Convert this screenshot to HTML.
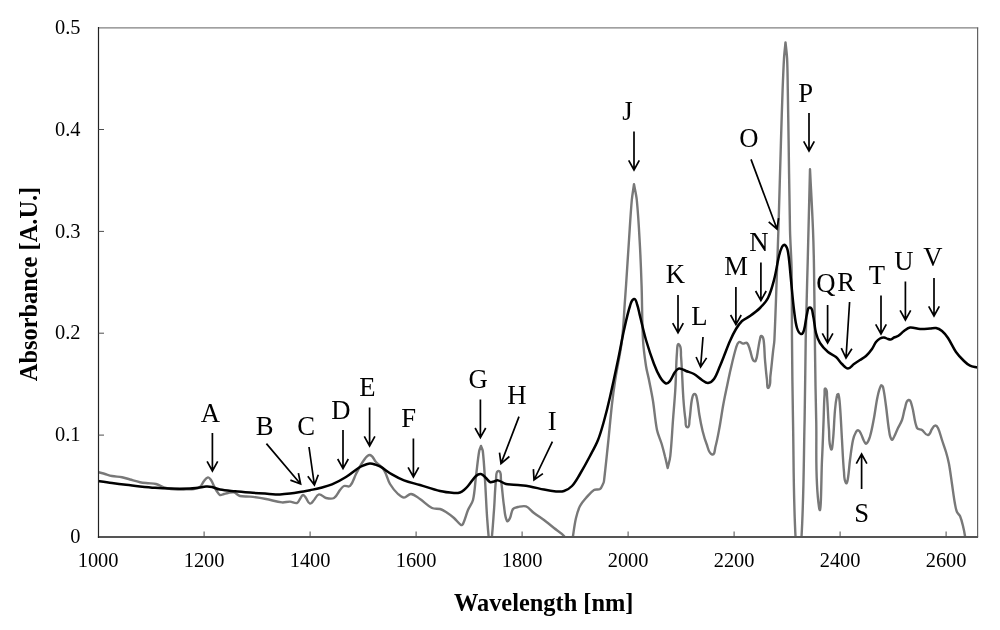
<!DOCTYPE html>
<html><head><meta charset="utf-8"><title>Absorbance spectrum</title>
<style>
html,body{margin:0;padding:0;background:#fff}
svg{display:block}
text{font-family:"Liberation Serif","Times New Roman",serif;fill:#000}
.tick{font-size:20.4px}
.lab{font-size:26.67px}
.ttl{font-size:24.4px;font-weight:bold}
</style></head><body>
<svg width="1000" height="630" viewBox="0 0 1000 630">
<rect width="1000" height="630" fill="#fff"/>
<defs><clipPath id="pa"><rect x="98.5" y="27.6" width="879.1" height="509.4"/></clipPath></defs>

<g clip-path="url(#pa)" fill="none" stroke-linejoin="round" stroke-linecap="round">
<path d="M98.0 472.0C100.3 472.7 102.7 473.3 105.0 474.0C107.3 474.7 109.6 475.6 112.0 476.0C115.3 476.6 118.7 476.6 122.0 477.2C124.7 477.7 127.3 478.8 130.0 479.5C133.3 480.4 136.6 481.5 140.0 482.2C142.6 482.7 145.3 482.9 148.0 483.2C150.7 483.5 153.4 483.3 156.0 484.0C159.5 484.9 162.5 487.1 166.0 488.0C169.9 489.0 174.0 489.3 178.0 489.6C180.7 489.8 183.3 489.5 186.0 489.4C188.7 489.3 191.4 489.5 194.0 489.0C196.1 488.6 198.4 488.3 200.0 487.0C201.9 485.5 202.5 482.8 204.0 481.0C205.1 479.6 206.2 477.7 208.0 477.4C209.3 477.2 210.2 478.9 211.0 480.0C212.3 481.8 213.0 484.0 214.0 486.0C215.0 487.9 215.8 489.8 217.0 491.5C217.9 492.8 218.6 494.5 220.0 495.0C221.3 495.5 222.7 494.3 224.0 494.0C225.3 493.7 226.6 493.2 228.0 493.0C230.0 492.7 232.1 491.9 234.0 492.4C236.3 493.0 237.7 495.4 240.0 496.0C243.2 496.8 246.7 496.2 250.0 496.6C255.4 497.2 260.7 498.0 266.0 499.0C271.4 500.0 276.6 501.8 282.0 502.4C284.7 502.7 287.3 501.5 290.0 501.6C292.4 501.7 294.7 503.6 297.0 503.0C298.6 502.6 299.0 500.3 300.0 499.0C301.0 497.7 301.4 495.3 303.0 495.0C304.4 494.8 305.1 496.9 306.0 498.0C307.4 499.8 307.8 503.0 310.0 503.6C311.7 504.0 312.7 501.3 314.0 500.0C315.7 498.2 316.5 494.8 319.0 494.4C321.6 494.0 323.4 497.4 326.0 498.0C328.6 498.6 331.7 499.3 334.0 498.0C336.9 496.3 337.9 492.6 340.0 490.0C341.2 488.6 342.2 486.7 344.0 486.0C345.9 485.3 348.6 487.4 350.0 486.0C353.2 482.8 353.9 477.9 356.0 474.0C358.5 469.3 360.8 464.3 364.0 460.0C365.5 457.9 367.4 454.6 370.0 455.0C373.0 455.5 373.9 459.8 376.0 462.0C378.6 464.8 382.0 466.8 384.0 470.0C386.7 474.3 387.4 479.6 390.0 484.0C392.2 487.7 394.9 491.0 398.0 494.0C399.7 495.6 401.7 497.6 404.0 497.6C406.6 497.6 408.4 493.8 411.0 494.0C414.4 494.3 417.1 497.1 420.0 499.0C424.2 501.8 427.5 505.8 432.0 508.0C434.4 509.2 437.4 508.3 440.0 509.0C442.2 509.6 444.1 510.8 446.0 512.0C448.8 513.8 451.5 515.8 454.0 518.0C456.5 520.2 458.3 523.2 461.0 525.0C461.6 525.4 462.7 524.7 463.0 524.0C465.1 519.5 466.1 514.6 468.0 510.0C469.4 506.6 472.1 503.6 473.0 500.0C474.8 492.2 475.0 484.0 476.0 476.0C477.1 467.7 477.8 459.3 479.2 451.0C479.5 449.3 480.4 447.7 481.0 446.0C481.6 447.7 482.6 449.2 482.8 451.0C483.9 460.6 484.4 470.3 485.0 480.0C485.8 492.0 486.2 504.0 487.0 516.0C487.7 525.7 488.3 535.4 489.6 545.0C489.7 545.5 490.9 545.5 491.0 545.0C492.5 533.4 493.1 521.7 494.0 510.0C494.8 500.0 494.8 490.0 496.0 480.0C496.4 476.9 495.5 471.0 498.6 471.0C501.7 471.0 500.5 476.9 501.0 480.0C502.3 488.6 502.7 497.4 504.0 506.0C504.7 511.0 504.7 516.4 507.0 521.0C507.6 522.3 509.4 519.3 510.0 518.0C511.4 515.2 511.1 511.6 513.0 509.0C514.1 507.5 516.2 507.4 518.0 507.0C520.6 506.5 523.5 505.5 526.0 506.4C529.2 507.6 531.2 510.9 534.0 513.0C537.2 515.5 540.7 517.6 544.0 520.0C547.4 522.6 550.7 525.3 554.0 528.0C557.3 530.7 561.3 532.7 564.0 536.0C566.1 538.5 565.8 542.5 568.0 545.0C568.9 546.0 571.4 546.2 572.0 545.0C573.5 542.4 572.6 539.0 573.0 536.0C573.9 530.0 574.6 523.9 576.0 518.0C577.0 513.9 578.1 509.8 580.0 506.0C581.5 503.0 583.8 500.5 586.0 498.0C588.5 495.2 590.8 492.0 594.0 490.0C595.7 488.9 598.3 490.1 600.0 489.0C601.6 487.9 602.1 485.7 603.0 484.0C603.5 483.1 603.9 482.0 604.0 481.0C605.5 468.7 606.7 456.3 608.0 444.0C609.4 430.7 610.5 417.3 612.0 404.0C612.9 396.0 614.0 388.0 615.2 380.0C617.3 366.6 620.4 353.4 622.0 340.0C623.6 326.7 624.0 313.3 625.0 300.0C625.3 295.3 625.7 290.7 626.0 286.0C627.0 270.7 628.0 255.3 629.0 240.0C629.9 226.7 630.6 213.3 631.8 200.0C632.3 194.7 633.3 189.5 634.0 184.2C634.9 189.5 636.3 194.7 636.8 200.0C638.1 213.3 638.9 226.7 639.6 240.0C640.5 255.3 641.1 270.7 641.6 286.0C642.2 304.0 642.0 322.0 643.0 340.0C643.5 348.7 644.7 357.4 646.0 366.0C646.7 370.7 648.1 375.3 649.0 380.0C650.4 387.0 651.9 394.0 653.0 401.0C654.5 410.6 655.1 420.4 657.0 430.0C658.0 434.8 660.3 439.3 661.7 444.0C662.9 448.1 664.0 452.3 665.0 456.5C666.0 460.3 666.8 464.2 667.7 468.0C668.6 464.0 669.9 460.1 670.3 456.0C671.6 444.0 672.1 432.0 673.0 420.0C673.8 409.3 674.8 398.7 675.4 388.0C676.1 376.0 676.0 364.0 677.0 352.0C677.2 349.4 677.1 342.5 679.0 344.4C681.8 347.2 680.7 352.1 681.0 356.0C682.2 370.3 682.4 384.7 683.4 399.0C683.9 406.0 684.5 413.0 685.5 420.0C685.9 422.5 684.9 427.3 687.4 427.3C689.9 427.3 689.1 422.5 689.5 420.0C690.6 413.0 690.6 405.9 692.0 399.0C692.4 397.2 692.7 394.0 694.6 394.0C696.4 394.0 696.6 397.2 697.0 399.0C698.2 404.3 698.5 409.7 699.4 415.0C700.3 420.4 701.3 425.7 702.6 431.0C703.7 435.4 704.9 439.8 706.6 444.0C708.1 447.7 708.4 453.2 712.2 454.5C714.8 455.4 714.7 449.6 715.4 447.0C717.1 440.8 718.2 434.4 719.4 428.0C720.9 420.0 721.9 412.0 723.4 404.0C724.9 396.0 726.7 388.0 728.3 380.0C728.9 377.3 729.4 374.7 730.0 372.0C731.9 364.0 733.6 355.9 736.0 348.0C736.6 345.9 737.1 343.2 739.0 342.0C740.2 341.2 741.6 343.4 743.0 343.6C744.3 343.8 746.0 342.1 747.0 343.0C748.9 344.7 749.2 347.6 750.0 350.0C751.2 353.3 751.4 356.9 753.0 360.0C753.4 360.8 755.2 361.8 755.6 361.0C757.3 357.6 757.3 353.7 758.0 350.0C758.7 346.3 759.1 342.6 760.0 339.0C760.3 337.9 760.4 335.7 761.5 336.0C763.0 336.4 763.4 338.5 763.6 340.0C764.6 346.6 764.4 353.3 765.0 360.0C765.6 366.7 766.1 373.4 767.0 380.0C767.3 382.6 766.9 389.6 768.6 387.6C771.1 384.6 769.9 379.9 770.4 376.0C771.4 368.0 772.1 360.0 773.0 352.0C773.4 348.0 774.2 344.0 774.4 340.0C775.5 316.7 776.2 293.3 777.0 270.0C777.5 256.7 778.0 243.3 778.4 230.0C779.3 200.0 780.1 170.0 781.0 140.0C781.5 123.3 782.0 106.7 782.6 90.0C783.0 79.5 783.4 69.1 784.0 58.6C784.3 53.2 785.0 47.8 785.5 42.4C786.1 47.8 786.8 53.2 787.1 58.6C787.6 69.1 787.6 79.5 787.8 90.0C788.1 106.7 788.3 123.3 788.6 140.0C789.1 170.0 789.3 200.0 790.0 230.0C790.3 243.3 791.4 256.7 791.6 270.0C792.0 293.3 791.8 316.7 792.0 340.0C792.2 366.7 792.5 393.3 793.0 420.0C793.8 461.7 793.3 503.4 796.0 545.0C796.1 546.7 800.9 546.7 801.0 545.0C803.9 503.4 803.6 461.7 804.6 420.0C805.2 393.3 805.2 366.7 805.7 340.0C806.2 314.0 807.0 288.0 807.7 262.0C808.5 231.1 809.2 200.2 810.0 169.3C811.0 189.5 812.2 209.8 813.0 230.0C813.5 242.7 813.8 255.3 814.0 268.0C814.5 295.3 814.6 322.7 815.0 350.0C815.3 373.3 815.6 396.7 816.2 420.0C816.9 449.0 814.8 478.3 819.0 507.0C821.3 522.5 821.2 475.7 822.0 460.0C822.7 446.7 823.1 433.3 823.6 420.0C823.9 411.3 824.0 402.7 824.6 394.0C824.7 392.2 824.2 387.4 825.6 388.6C827.5 390.2 826.8 393.5 827.0 396.0C827.9 407.3 828.1 418.7 829.0 430.0C829.5 436.4 828.6 443.1 831.0 449.0C832.1 451.9 832.7 443.1 833.0 440.0C834.0 430.0 834.1 420.0 835.0 410.0C835.4 405.1 836.0 400.3 837.0 395.5C837.1 394.9 838.2 393.6 838.4 394.2C839.5 398.0 839.7 402.0 840.0 406.0C840.9 417.3 841.3 428.7 842.0 440.0C842.6 450.7 843.0 461.4 844.0 472.0C844.3 475.7 843.9 479.9 846.0 483.0C847.0 484.5 847.7 479.8 848.0 478.0C849.0 472.1 849.2 466.0 850.0 460.0C850.9 453.3 851.6 446.6 853.0 440.0C853.6 437.2 854.6 434.5 856.0 432.0C856.5 431.2 857.5 430.0 858.4 430.4C859.8 430.9 860.3 432.7 861.0 434.0C862.2 436.2 862.8 438.8 864.0 441.0C864.6 442.0 865.5 444.3 866.4 443.6C868.5 442.0 869.2 439.0 870.0 436.5C871.8 430.5 872.8 424.2 874.0 418.0C875.3 411.0 876.0 403.9 877.5 397.0C878.3 393.1 879.1 389.0 881.0 385.5C881.4 384.8 882.8 386.2 883.0 387.0C884.5 393.2 885.1 399.6 886.0 406.0C887.1 414.0 887.7 422.0 889.0 430.0C889.5 433.3 889.7 436.9 891.6 439.6C892.3 440.6 893.4 438.0 894.0 437.0C895.6 434.1 896.6 431.0 898.0 428.0C899.3 425.3 901.0 422.8 902.0 420.0C903.4 416.1 903.7 411.9 905.0 408.0C905.9 405.2 905.8 400.8 908.6 400.0C910.8 399.4 911.3 403.8 912.0 406.0C914.2 413.2 914.1 421.1 917.0 428.0C917.7 429.7 920.5 429.0 922.0 430.0C924.2 431.4 925.4 435.3 928.0 435.0C930.4 434.8 930.6 430.9 932.0 429.0C932.9 427.8 933.5 425.8 935.0 425.6C936.3 425.4 937.4 426.8 938.0 428.0C939.8 431.8 940.7 436.0 942.0 440.0C943.3 444.0 944.8 448.0 946.0 452.0C947.2 456.0 948.2 459.9 949.0 464.0C950.2 470.6 951.0 477.3 952.0 484.0C953.0 490.7 953.8 497.4 955.0 504.0C955.5 506.7 955.9 509.5 957.0 512.0C957.6 513.5 959.3 514.5 960.0 516.0C961.4 519.2 962.2 522.6 963.0 526.0C963.8 529.3 964.5 532.6 965.0 536.0C965.5 539.0 965.7 542.0 966.0 545.0" stroke="#787878" stroke-width="2.4"/>
<path d="M98.0 481.0C102.7 481.7 107.3 482.4 112.0 483.0C116.7 483.6 121.3 484.2 126.0 484.8C130.7 485.4 135.3 485.9 140.0 486.4C145.0 486.9 150.0 487.4 155.0 487.8C160.0 488.2 165.0 488.5 170.0 488.6C176.7 488.8 183.3 488.8 190.0 488.6C192.7 488.5 195.3 488.1 198.0 487.8C200.7 487.5 203.3 486.8 206.0 486.6C208.0 486.5 210.0 486.6 212.0 487.0C214.7 487.6 217.2 489.1 220.0 489.6C224.9 490.5 230.0 490.8 235.0 491.3C240.0 491.8 245.0 492.2 250.0 492.6C255.0 493.0 260.0 493.3 265.0 493.6C270.0 493.9 275.0 494.4 280.0 494.4C283.3 494.4 286.7 494.0 290.0 493.6C293.4 493.2 296.7 492.6 300.0 492.0C303.3 491.4 306.7 490.9 310.0 490.2C313.3 489.5 316.7 488.9 320.0 488.0C324.0 486.9 328.2 486.0 332.0 484.4C336.9 482.3 341.5 479.8 346.0 477.0C350.9 474.0 355.1 470.0 360.0 467.0C361.8 465.9 363.9 465.2 366.0 464.5C367.3 464.1 368.6 463.6 370.0 463.6C371.7 463.6 373.4 464.0 375.0 464.5C376.7 465.0 378.5 465.5 380.0 466.4C384.2 468.8 387.8 472.0 392.0 474.4C395.9 476.7 399.8 478.8 404.0 480.4C409.2 482.4 414.7 483.4 420.0 485.0C426.7 487.0 433.2 489.4 440.0 491.0C444.6 492.1 449.3 492.6 454.0 493.0C456.0 493.2 458.1 493.1 460.0 492.5C461.5 492.0 462.8 491.0 464.0 490.0C465.5 488.8 466.8 487.4 468.0 486.0C470.8 482.8 472.9 478.9 476.0 476.0C477.3 474.8 479.2 473.6 481.0 474.0C483.1 474.4 484.4 476.6 486.0 478.0C487.4 479.3 488.3 481.2 490.0 482.0C491.2 482.5 492.7 481.8 494.0 481.5C495.4 481.2 496.6 480.1 498.0 480.4C500.9 481.0 503.2 483.3 506.0 484.0C509.9 484.9 514.0 484.6 518.0 485.0C522.0 485.4 526.0 485.7 530.0 486.4C534.7 487.2 539.3 488.7 544.0 489.6C548.0 490.4 552.0 491.1 556.0 491.4C558.7 491.6 561.5 491.9 564.0 491.0C567.0 490.0 569.8 488.3 572.0 486.0C575.3 482.5 577.5 478.1 580.0 474.0C583.5 468.1 586.8 462.1 590.0 456.0C592.8 450.7 595.8 445.5 598.0 440.0C600.5 433.8 602.2 427.4 604.0 421.0C606.2 413.1 608.2 405.0 610.0 397.0C612.8 384.7 615.4 372.4 618.0 360.0C620.1 350.0 621.8 340.0 624.0 330.0C625.8 322.0 627.5 313.8 630.0 306.0C630.8 303.4 631.4 299.7 634.0 299.0C635.9 298.5 636.4 302.2 637.0 304.0C638.4 307.9 639.0 312.0 640.0 316.0C642.0 324.0 643.7 332.1 646.0 340.0C648.4 348.1 651.0 356.1 654.0 364.0C655.7 368.5 657.5 372.9 660.0 377.0C661.5 379.5 663.3 382.4 666.0 383.5C667.5 384.1 669.0 382.2 670.0 381.0C672.1 378.3 673.0 374.8 675.0 372.0C676.0 370.5 677.2 368.6 679.0 368.4C681.5 368.2 683.7 370.1 686.0 371.0C688.7 372.0 691.5 372.6 694.0 374.0C696.9 375.6 699.2 378.2 702.0 380.0C703.9 381.2 705.8 383.2 708.0 383.0C710.4 382.8 712.6 381.0 714.0 379.0C716.8 375.1 718.1 370.4 720.0 366.0C721.4 362.7 722.7 359.3 724.0 356.0C726.0 351.0 727.8 345.9 730.0 341.0C731.8 336.9 733.7 332.8 736.0 329.0C737.7 326.1 739.6 323.3 742.0 321.0C744.3 318.9 747.5 317.8 750.0 316.0C753.5 313.5 757.0 311.0 760.0 308.0C763.0 305.0 766.1 301.8 768.0 298.0C770.8 292.3 772.4 286.1 774.0 280.0C776.1 272.1 777.1 263.9 779.0 256.0C779.7 252.9 780.5 249.8 782.0 247.0C782.6 245.9 784.1 244.2 785.0 245.0C787.0 246.6 787.6 249.5 788.0 252.0C789.6 261.3 790.0 270.7 791.0 280.0C792.0 290.0 792.8 300.0 794.0 310.0C794.8 316.0 795.3 322.2 797.0 328.0C797.7 330.3 798.7 333.3 801.0 334.0C802.6 334.5 803.5 331.6 804.0 330.0C805.6 324.8 805.6 319.2 807.0 314.0C807.6 311.7 807.6 307.1 810.0 307.5C812.7 307.9 812.4 312.4 813.0 315.0C814.4 320.9 814.5 327.1 816.0 333.0C816.9 336.5 818.1 340.0 820.0 343.0C822.1 346.4 825.0 349.4 828.0 352.0C830.4 354.1 833.6 355.0 836.0 357.0C838.3 359.0 839.8 361.9 842.0 364.0C843.8 365.7 845.5 368.4 848.0 368.4C850.5 368.4 852.0 365.4 854.0 364.0C856.0 362.6 858.0 361.3 860.0 360.0C862.0 358.7 864.2 357.6 866.0 356.0C868.3 353.9 870.2 351.5 872.0 349.0C873.6 346.8 874.4 344.1 876.0 342.0C877.1 340.6 878.5 339.4 880.0 338.5C881.2 337.8 882.6 337.3 884.0 337.4C885.4 337.5 886.6 338.6 888.0 339.0C889.0 339.3 890.0 339.6 891.0 339.4C892.1 339.1 892.9 338.0 894.0 337.5C895.3 336.9 896.8 336.8 898.0 336.0C900.2 334.6 901.9 332.5 904.0 331.0C905.9 329.7 907.7 327.9 910.0 327.6C913.3 327.2 916.6 328.8 920.0 329.0C923.3 329.2 926.7 328.8 930.0 328.6C932.0 328.5 934.0 327.6 936.0 328.0C938.2 328.4 940.3 329.6 942.0 331.0C944.4 333.0 946.3 335.4 948.0 338.0C951.0 342.5 952.9 347.6 956.0 352.0C958.3 355.3 961.1 358.2 964.0 361.0C965.8 362.8 967.7 364.5 970.0 365.6C972.3 366.7 975.0 366.9 977.5 367.6" stroke="#000" stroke-width="2.5"/>
</g>
<path d="M98.5 27.9H978.2" fill="none" stroke="#808080" stroke-width="1.4"/>
<path d="M977.6 27.6V537.0" fill="none" stroke="#626262" stroke-width="1.2"/>
<path d="M97.9 537.0H978.1" fill="none" stroke="#555" stroke-width="1.8"/>
<path d="M98.5 27.1V537.9" fill="none" stroke="#222" stroke-width="1.2"/>
<path d="M204.1 537.0v-5.5M310.1 537.0v-5.5M416.1 537.0v-5.5M522.1 537.0v-5.5M628.1 537.0v-5.5M734.1 537.0v-5.5M840.1 537.0v-5.5M946.1 537.0v-5.5M98.5 435.1h5.5M98.5 333.2h5.5M98.5 231.4h5.5M98.5 129.5h5.5" fill="none" stroke="#4d4d4d" stroke-width="1"/>
<text class="tick" x="98.1" y="567" text-anchor="middle">1000</text>
<text class="tick" x="204.1" y="567" text-anchor="middle">1200</text>
<text class="tick" x="310.1" y="567" text-anchor="middle">1400</text>
<text class="tick" x="416.1" y="567" text-anchor="middle">1600</text>
<text class="tick" x="522.1" y="567" text-anchor="middle">1800</text>
<text class="tick" x="628.1" y="567" text-anchor="middle">2000</text>
<text class="tick" x="734.1" y="567" text-anchor="middle">2200</text>
<text class="tick" x="840.1" y="567" text-anchor="middle">2400</text>
<text class="tick" x="946.1" y="567" text-anchor="middle">2600</text>
<text class="tick" x="80.5" y="543.2" text-anchor="end">0</text>
<text class="tick" x="80.5" y="441.3" text-anchor="end">0.1</text>
<text class="tick" x="80.5" y="339.4" text-anchor="end">0.2</text>
<text class="tick" x="80.5" y="237.6" text-anchor="end">0.3</text>
<text class="tick" x="80.5" y="135.7" text-anchor="end">0.4</text>
<text class="tick" x="80.5" y="33.8" text-anchor="end">0.5</text>
<text class="ttl" x="543.7" y="611" text-anchor="middle">Wavelength [nm]</text>
<text class="ttl" transform="translate(37 284) rotate(-90)" text-anchor="middle">Absorbance [A.U.]</text>
<text class="lab" x="200.8" y="421.6">A</text>
<text class="lab" x="255.8" y="435.0">B</text>
<text class="lab" x="297.2" y="435.3">C</text>
<text class="lab" x="331.2" y="419.0">D</text>
<text class="lab" x="359.2" y="395.6">E</text>
<text class="lab" x="401.2" y="427.0">F</text>
<text class="lab" x="468.6" y="387.8">G</text>
<text class="lab" x="507.2" y="404.4">H</text>
<text class="lab" x="547.8" y="430.0">I</text>
<text class="lab" x="622.2" y="120.3">J</text>
<text class="lab" x="665.7" y="283.4">K</text>
<text class="lab" x="691.2" y="325.2">L</text>
<text class="lab" x="724.2" y="275.3">M</text>
<text class="lab" x="749.2" y="251.0">N</text>
<text class="lab" x="739.2" y="146.7">O</text>
<text class="lab" x="798.2" y="102.0">P</text>
<text class="lab" x="816.2" y="292.0">Q</text>
<text class="lab" x="837.2" y="291.4">R</text>
<text class="lab" x="854.2" y="521.7">S</text>
<text class="lab" x="868.8" y="284.0">T</text>
<text class="lab" x="894.2" y="269.7">U</text>
<text class="lab" x="923.2" y="266.0">V</text>
<g fill="none" stroke="#000" stroke-width="1.7" stroke-linecap="butt" stroke-linejoin="miter">
<path d="M212.4 433.0L212.4 471.0M207.1 461.4L212.4 471.0L217.7 461.4"/>
<path d="M266.4 443.6L300.6 484.0M290.4 480.1L300.6 484.0L298.4 473.2"/>
<path d="M309.0 447.0L314.4 485.0M307.8 476.2L314.4 485.0L318.3 474.7"/>
<path d="M343.0 430.0L343.0 468.6M337.7 459.0L343.0 468.6L348.3 459.0"/>
<path d="M369.6 407.6L369.6 446.0M364.3 436.4L369.6 446.0L374.9 436.4"/>
<path d="M413.4 438.6L413.4 477.0M408.1 467.4L413.4 477.0L418.7 467.4"/>
<path d="M480.4 399.6L480.4 437.6M475.1 428.0L480.4 437.6L485.7 428.0"/>
<path d="M519.0 416.6L501.0 463.6M499.5 452.7L501.0 463.6L509.4 456.5"/>
<path d="M552.4 441.6L534.0 480.0M533.4 469.1L534.0 480.0L542.9 473.6"/>
<path d="M634.0 131.6L634.0 170.0M628.7 160.4L634.0 170.0L639.3 160.4"/>
<path d="M678.0 295.0L678.0 332.7M672.7 323.1L678.0 332.7L683.3 323.1"/>
<path d="M703.0 337.0L700.6 367.0M696.1 357.0L700.6 367.0L706.6 357.9"/>
<path d="M735.9 287.0L735.9 324.6M730.6 315.0L735.9 324.6L741.2 315.0"/>
<path d="M760.9 262.4L760.9 300.6M755.6 291.0L760.9 300.6L766.2 291.0"/>
<path d="M751.0 159.4L777.0 229.0M768.7 221.9L777.0 229.0L778.6 218.2"/>
<path d="M809.0 113.0L809.0 151.0M803.7 141.4L809.0 151.0L814.3 141.4"/>
<path d="M827.6 305.0L827.6 343.0M822.3 333.4L827.6 343.0L832.9 333.4"/>
<path d="M849.6 302.0L846.0 358.0M841.3 348.1L846.0 358.0L851.9 348.8"/>
<path d="M861.6 489.0L861.6 454.0M866.9 463.6L861.6 454.0L856.3 463.6"/>
<path d="M881.0 295.6L881.0 334.0M875.7 324.4L881.0 334.0L886.3 324.4"/>
<path d="M905.4 281.6L905.4 320.0M900.1 310.4L905.4 320.0L910.7 310.4"/>
<path d="M934.0 278.0L934.0 316.0M928.7 306.4L934.0 316.0L939.3 306.4"/>
</g>
</svg></body></html>
